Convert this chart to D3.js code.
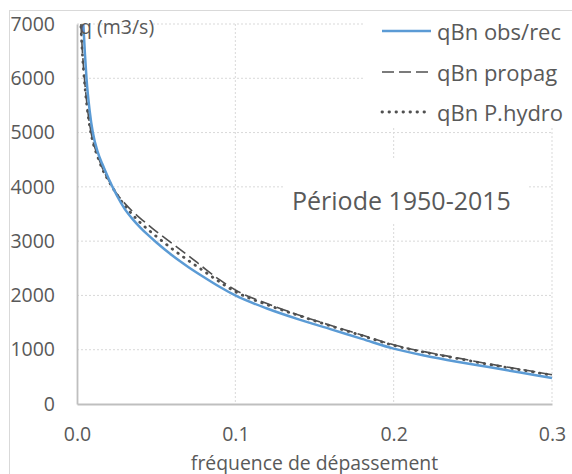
<!DOCTYPE html>
<html>
<head>
<meta charset="utf-8">
<style>
body { margin: 0; background: #fff; }
text { font-family: "Open Sans", sans-serif; fill: #595959; }
.grid line { stroke: #d9d9d9; stroke-width: 1; stroke-dasharray: 2,2; }
</style>
</head>
<body>
<script src="https://cdn.jsdelivr.net/npm/d3@7/dist/d3.min.js"></script>
<script>

// exceedance frequency (shared x values)
var freq = [0.0025, 0.003, 0.004, 0.005, 0.006, 0.008, 0.010, 0.013, 0.016, 0.020,
            0.025, 0.030, 0.035, 0.040, 0.045, 0.050, 0.060, 0.070, 0.080, 0.090,
            0.100, 0.120, 0.140, 0.160, 0.180, 0.200, 0.220, 0.240, 0.260, 0.280, 0.300];

// qBn obs/rec (m3/s)
var qObs = [null, null, 7000, 6450, 6000, 5400, 5000, 4650, 4420, 4150,
            3850, 3600, 3410, 3250, 3110, 2980, 2740, 2530, 2340, 2160,
            2000, 1760, 1560, 1380, 1200, 1020, 890, 780, 680, 580, 480];

// qBn propag
var qPropag = [7000, 6700, 6250, 5900, 5600, 5150, 4850, 4580, 4350, 4120,
               3880, 3700, 3550, 3420, 3300, 3180, 2960, 2740, 2510, 2290,
               2100, 1850, 1640, 1450, 1270, 1090, 960, 850, 740, 640, 540];

// qBn P.hydro
var qHydro = [6950, 6650, 6200, 5850, 5560, 5120, 4830, 4560, 4330, 4110,
              3870, 3660, 3490, 3340, 3210, 3090, 2860, 2650, 2450, 2250,
              2070, 1830, 1630, 1440, 1260, 1080, 950, 840, 730, 630, 530];

var yTicks = [0, 1000, 2000, 3000, 4000, 5000, 6000, 7000];
var xTicks = [0, 0.1, 0.2, 0.3];
var seriesNames = ["qBn obs/rec", "qBn propag", "qBn P.hydro"];

var width = 572,
    height = 474;

var plotLeft = 77, plotRight = 552, plotTop = 24, plotBottom = 404;

var svg = d3.select("body").append("svg")
    .attr("width", width)
    .attr("height", height);

// chart frame
svg.append("rect")
    .attr("x", 9.5).attr("y", 10.5)
    .attr("width", 600).attr("height", 500)
    .attr("fill", "#fff")
    .attr("stroke", "#d9d9d9");

var x = d3.scaleLinear().domain([0, 0.3]).range([plotLeft, plotRight]);
var y = d3.scaleLinear().domain([0, 7000]).range([plotBottom, plotTop]);

// gridlines
var grid = svg.append("g").attr("class", "grid");
grid.selectAll(".h").data(yTicks.filter(function(d) { return d > 0; }))
  .enter().append("line")
    .attr("x1", plotLeft).attr("x2", plotRight)
    .attr("y1", function(d) { return y(d); })
    .attr("y2", function(d) { return y(d); });
grid.selectAll(".v").data(xTicks.filter(function(d) { return d > 0; }))
  .enter().append("line")
    .attr("x1", function(d) { return x(d); })
    .attr("x2", function(d) { return x(d); })
    .attr("y1", plotTop).attr("y2", plotBottom);

// axes
var yAxis = svg.append("g")
    .attr("transform", "translate(" + plotLeft + ",0)")
    .call(d3.axisLeft(y).tickValues(yTicks).tickSize(0).tickPadding(22).tickFormat(d3.format("d")));
var xAxis = svg.append("g")
    .attr("transform", "translate(0," + plotBottom + ")")
    .call(d3.axisBottom(x).tickValues(xTicks).tickSize(0).tickPadding(23).tickFormat(d3.format(".1f")));

[yAxis, xAxis].forEach(function(a) {
  a.select(".domain").attr("stroke", "#bfbfbf").attr("stroke-width", 1.8);
  a.selectAll("text").attr("font-size", 19.5).attr("font-family", "Open Sans").attr("fill", "#595959");
});

// white boxes behind the title and the legend
svg.append("rect").attr("x", 284).attr("y", 160).attr("width", 244).attr("height", 62).attr("fill", "#fff");
svg.append("rect").attr("x", 363).attr("y", 12).attr("width", 209).attr("height", 116).attr("fill", "#fff");

// curves
var styles = [
  { values: qObs, stroke: "#5b9bd5", width: 2.5, dash: null, cap: "butt" },
  { values: qPropag, stroke: "#505050", width: 1.6, dash: "12,5", cap: "butt" },
  { values: qHydro, stroke: "#505050", width: 2.8, dash: "0.5,6.5", cap: "round" }
];

var line = d3.line()
    .defined(function(d) { return d[1] != null; })
    .x(function(d) { return x(d[0]); })
    .y(function(d) { return y(d[1]); })
    .curve(d3.curveMonotoneX);

// draw dotted, dashed, then blue on top
[2, 1, 0].forEach(function(i) {
  var s = styles[i];
  svg.append("path")
      .datum(freq.map(function(f, j) { return [f, s.values[j]]; }))
      .attr("d", line)
      .attr("fill", "none")
      .attr("stroke", s.stroke)
      .attr("stroke-width", s.width)
      .attr("stroke-linecap", s.cap)
      .attr("stroke-dasharray", s.dash);
});

// legend
var legend = svg.append("g");
var rowY = [31, 72, 112];
seriesNames.forEach(function(name, i) {
  var s = styles[i];
  legend.append("line")
      .attr("x1", 382).attr("x2", 431)
      .attr("y1", rowY[i]).attr("y2", rowY[i])
      .attr("stroke", s.stroke)
      .attr("stroke-width", s.width)
      .attr("stroke-linecap", s.cap)
      .attr("stroke-dasharray", s.dash);
  legend.append("text")
      .attr("x", 437).attr("y", rowY[i] + 9)
      .attr("font-size", 22)
      .text(name);
});

// labels
svg.append("text")
    .attr("x", 80).attr("y", 34)
    .attr("font-size", 19.5)
    .text("q (m3/s)");

svg.append("text")
    .attr("x", 292).attr("y", 210)
    .attr("font-size", 25)
    .text("Période 1950-2015");

svg.append("text")
    .attr("x", (plotLeft + plotRight) / 2).attr("y", 470)
    .attr("text-anchor", "middle")
    .attr("font-size", 19.4)
    .text("fréquence de dépassement");

</script>
</body>
</html>
